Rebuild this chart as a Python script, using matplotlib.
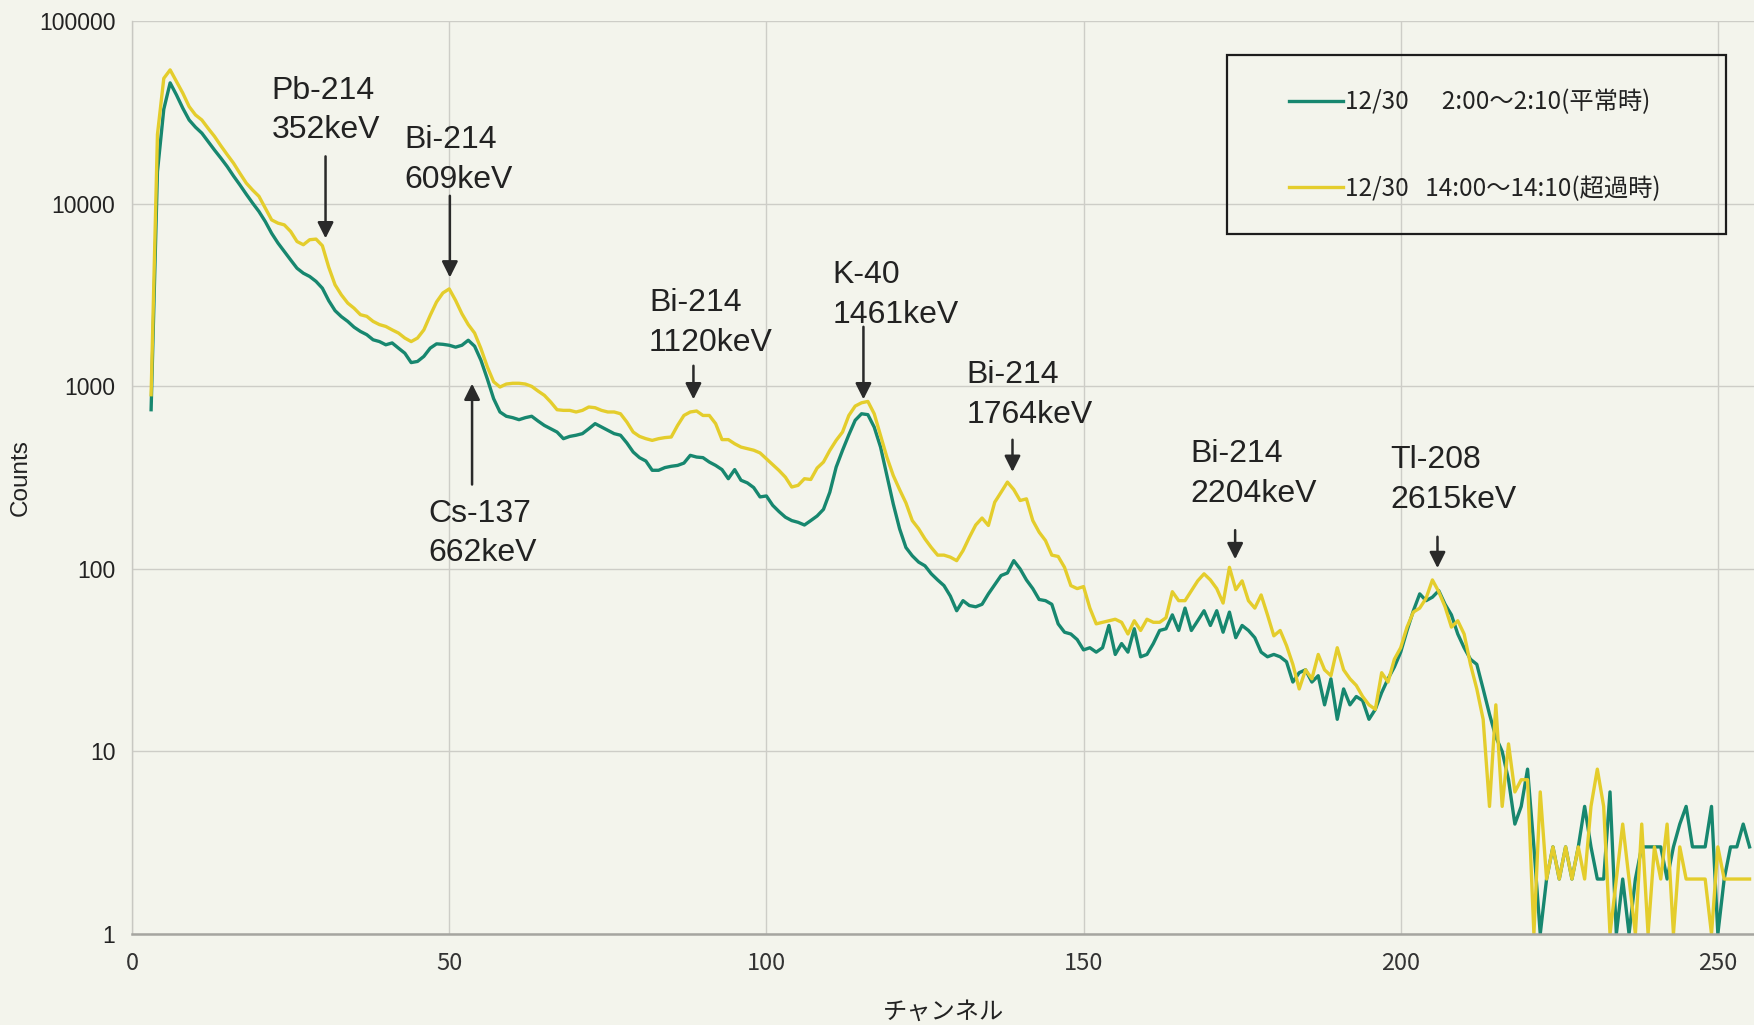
import numpy as np
import matplotlib
matplotlib.use('Agg')
import matplotlib.pyplot as plt
from matplotlib.patches import Rectangle
from matplotlib.ticker import NullLocator

# チャンネル 3～255 のカウント
channel = np.arange(3, 256)

counts_normal = [
    745, 15000, 33000, 46000, 39500, 33400, 28800, 26300, 24400, 21900,
    19700, 17800, 16000, 14200, 12700, 11300, 10100, 9080, 8000, 6900,
    6100, 5480, 4930, 4440, 4170, 4000, 3760, 3450, 2950, 2600,
    2410, 2270, 2110, 2000, 1920, 1800, 1760, 1690, 1730, 1620,
    1520, 1350, 1370, 1460, 1620, 1710, 1700, 1680, 1640, 1680,
    1790, 1660, 1390, 1100, 856, 724, 686, 674, 657, 674,
    686, 646, 611, 586, 562, 517, 532, 540, 551, 586,
    625, 599, 574, 551, 540, 490, 437, 407, 390, 347,
    347, 359, 365, 369, 380, 419, 410, 407, 385, 369,
    350, 312, 350, 306, 296, 279, 248, 251, 223, 206,
    192, 184, 180, 174, 184, 195, 212, 263, 361, 446,
    543, 652, 708, 700, 598, 465, 325, 227, 166, 131,
    118, 109, 104, 94, 87, 81, 71, 59, 67, 63,
    62, 64, 73, 82, 92, 95, 111, 100, 87, 78,
    68, 67, 64, 50, 45, 44, 41, 36, 37, 35,
    37, 49, 34, 39, 35, 47, 33, 34, 39, 46,
    47, 56, 46, 61, 46, 52, 59, 49, 59, 45,
    58, 42, 49, 46, 42, 35, 33, 34, 33, 31,
    24, 27, 28, 24, 26, 18, 25, 15, 22, 18,
    20, 19, 15, 17, 21, 25, 29, 35, 46, 59,
    73, 67, 70, 76, 64, 56, 44, 37, 32, 30,
    22, 16, 12, 10, 7, 4, 5, 8, 3, 1,
    2, 3, 2, 3, 2, 3, 5, 3, 2, 2,
    6, 1, 2, 1, 2, 3, 3, 3, 3, 2,
    3, 4, 5, 3, 3, 3, 5, 1, 2, 3,
    3, 4, 3,
]

counts_exceed = [
    900, 24000, 48700, 54200, 46800, 40400, 34100, 30700, 28800, 25900,
    23400, 20800, 18600, 16700, 14700, 13000, 11900, 11000, 9470, 8170,
    7840, 7670, 7060, 6220, 5970, 6360, 6410, 5900, 4500, 3600,
    3170, 2860, 2680, 2470, 2420, 2270, 2180, 2130, 2040, 1960,
    1840, 1760, 1840, 2040, 2450, 2900, 3250, 3420, 2960, 2500,
    2180, 1960, 1610, 1280, 1060, 992, 1030, 1040, 1040, 1030,
    1000, 943, 893, 821, 745, 739, 739, 724, 739, 771,
    764, 739, 724, 724, 708, 638, 562, 532, 517, 506,
    517, 524, 528, 611, 693, 724, 733, 693, 693, 625,
    511, 511, 485, 465, 456, 447, 432, 401, 372, 346,
    318, 281, 287, 312, 309, 357, 385, 446, 506, 562,
    693, 780, 813, 827, 708, 538, 409, 325, 272, 230,
    184, 166, 146, 131, 119, 119, 116, 111, 126, 149,
    174, 190, 173, 232, 263, 299, 272, 237, 242, 184,
    159, 143, 119, 117, 102, 81, 78, 80, 61, 50,
    51, 52, 53, 51, 44, 52, 46, 53, 51, 51,
    54, 75, 67, 67, 76, 86, 94, 87, 78, 65,
    102, 77, 86, 67, 61, 72, 56, 43, 46, 38,
    30, 22, 28, 25, 34, 28, 26, 37, 28, 25,
    23, 20, 18, 17, 27, 24, 32, 37, 48, 58,
    61, 69, 87, 75, 62, 48, 52, 44, 30, 22,
    15, 5, 18, 5, 11, 6, 7, 7, 1, 6,
    2, 3, 2, 3, 2, 3, 2, 5, 8, 5,
    1, 2, 4, 2, 1, 4, 1, 3, 2, 4,
    1, 3, 2, 2, 2, 2, 1, 3, 2, 2,
    2, 2, 2,
]

series_labels = ['12/30      2:00～2:10(平常時)', '12/30   14:00～14:10(超過時)']
x_ticks = [0, 50, 100, 150, 200, 250]
y_ticks = [1, 10, 100, 1000, 10000, 100000]

peak_labels = ['Pb-214\n352keV', 'Bi-214\n609keV', 'Cs-137\n662keV', 'Bi-214\n1120keV',
               'K-40\n1461keV', 'Bi-214\n1764keV', 'Bi-214\n2204keV', 'Tl-208\n2615keV']

# 文字の位置 (x, y) と矢印 (x, 根元, 先端)
text_pos = [(22.0, 32400), (43.0, 17400), (46.7, 156), (81.5, 2220),
            (110.4, 3180), (131.6, 897), (166.8, 330), (198.4, 307)]
arrow_pos = [(30.5, 18200, 6470), (50.1, 11070, 3950), (53.6, 290, 1035), (88.5, 1297, 849),
             (115.3, 2120, 849), (138.8, 510, 340), (173.9, 163, 113), (205.8, 150, 101)]

bg = '#f3f4ec'
fig = plt.figure(figsize=(17.54, 10.25), dpi=100, facecolor=bg)
ax = fig.add_axes([0.0753, 0.0888, 0.9247, 0.8904])
ax.set_facecolor(bg)

ax.plot(channel, counts_normal, color='#17876f', lw=2.4, solid_joinstyle='round', label=series_labels[0])
ax.plot(channel, counts_exceed, color='#e4cd2c', lw=2.4, solid_joinstyle='round', label=series_labels[1])

ax.set_yscale('log')
ax.set_xlim(0, 255.7)
ax.set_ylim(1, 100000)
ax.set_xticks(x_ticks)
ax.set_yticks(y_ticks)
ax.set_yticklabels([str(v) for v in y_ticks])
ax.yaxis.set_minor_locator(NullLocator())
ax.grid(True, color='#cdcdc7', lw=1.0)
ax.set_axisbelow(True)
ax.tick_params(length=0)
ax.tick_params(axis='y', pad=12)
ax.tick_params(axis='x', pad=13)
for t in ax.get_yticklabels():
    t.set_fontfamily('Liberation Sans')
    t.set_fontsize(16.5)
    t.set_color('#222222')
for t in ax.get_xticklabels():
    t.set_fontfamily('Noto Sans CJK JP')
    t.set_fontsize(17)
    t.set_color('#333333')

for s in ['top', 'right']:
    ax.spines[s].set_visible(False)
ax.spines['left'].set_color('#c8c8c2')
ax.spines['left'].set_linewidth(1.0)
ax.spines['bottom'].set_color('#a5a5a0')
ax.spines['bottom'].set_linewidth(1.8)

ax.set_xlabel('チャンネル', family='Noto Sans CJK JP', fontsize=17.5, color='#222222')
ax.xaxis.set_label_coords(0.5, -0.071)
ax.set_ylabel('Counts', family='Liberation Sans', fontsize=17.5, color='#222222')
ax.yaxis.set_label_coords(-0.062, 0.5)

for s, (tx, ty), (axx, a0, a1) in zip(peak_labels, text_pos, arrow_pos):
    ax.text(tx, ty, s, ha='left', va='center', family='Liberation Sans', fontsize=23,
            color='#222222', linespacing=1.42)
    ax.annotate('', xy=(axx, a1), xytext=(axx, a0),
                arrowprops=dict(arrowstyle='-|>', color='#2a2a2a', lw=1.8,
                                mutation_scale=24, shrinkA=0, shrinkB=0))

leg = ax.legend(loc='upper left', bbox_to_anchor=(0.735, 0.913), bbox_transform=fig.transFigure,
                frameon=False, prop={'family': 'Noto Sans CJK JP', 'size': 17.5},
                handlelength=2.2, handletextpad=0.1, labelspacing=2.5,
                borderpad=0, borderaxespad=0)
for t in leg.get_texts():
    t.set_color('#222222')
fig.add_artist(Rectangle((0.6995, 0.7717), 0.2845, 0.1746, transform=fig.transFigure,
                         fill=False, ec='#1c1c1c', lw=1.6))

fig.savefig('out.png', dpi=100, facecolor=bg)
